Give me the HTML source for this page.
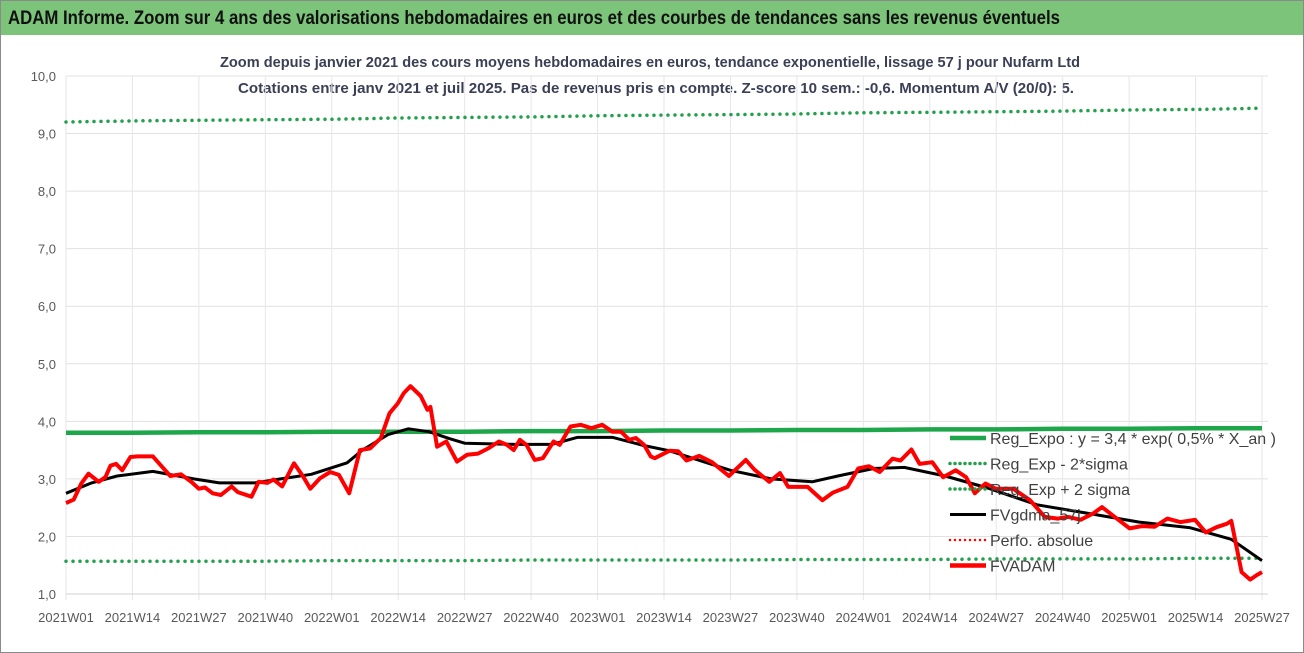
<!DOCTYPE html>
<html><head><meta charset="utf-8"><style>
html,body{margin:0;padding:0;background:#fff;}
svg{display:block;font-family:"Liberation Sans Narrow","Liberation Sans",sans-serif;}
</style></head><body>
<svg id="chart" width="1304" height="653" viewBox="0 0 1304 653">
<rect x="0" y="0" width="1304" height="653" fill="#fff"/>
<rect x="0.5" y="0.5" width="1303" height="652" fill="none" stroke="#8a8a8a"/>
<rect x="1" y="1" width="1302" height="34" fill="#7cc47a"/>
<text x="8" y="24" font-size="19" font-weight="bold" fill="#111" textLength="1052" lengthAdjust="spacingAndGlyphs">ADAM Informe. Zoom sur 4 ans des valorisations hebdomadaires en euros et des courbes de tendances sans les revenus éventuels</text>
<text x="650" y="67" font-size="15" font-weight="bold" fill="#3a3f55" text-anchor="middle" textLength="860" lengthAdjust="spacingAndGlyphs">Zoom depuis janvier 2021 des cours moyens hebdomadaires en euros, tendance exponentielle, lissage 57 j pour Nufarm Ltd</text>
<text x="656" y="93" font-size="15" font-weight="bold" fill="#3a3f55" text-anchor="middle" textLength="836" lengthAdjust="spacingAndGlyphs">Cotations entre janv 2021 et juil 2025. Pas de revenus pris en compte. Z-score 10 sem.: -0,6. Momentum A/V (20/0): 5.</text>
<g id="grid"></g><g id="axes"></g><g id="series"></g><g id="legend"></g>
</svg>
<script>
const xTickLabels=["2021W01","2021W14","2021W27","2021W40","2022W01","2022W14","2022W27","2022W40","2023W01","2023W14","2023W27","2023W40","2024W01","2024W14","2024W27","2024W40","2025W01","2025W14","2025W27"];
const yTicks=[1,2,3,4,5,6,7,8,9,10];
const redWeeks=[0,1.5,3,4.4,6.4,7.7,8.7,9.8,11,12.6,14,17,18.8,20.4,22.5,24.5,26,27.2,28.7,30.3,32.4,33.6,36.3,37.7,39.4,40.6,42.3,44.6,46.4,47.8,49.7,51.7,53.4,55.4,57.5,59.5,61.6,63.3,64.9,66.1,67.4,69.4,70.7,71.3,72.6,74.4,76.5,78.5,80.6,82.6,84.7,86.3,87.6,88.8,90.1,91.7,93.3,95.4,96.6,98.7,100.7,102.8,104.9,106.9,108.6,110.2,111.5,113.1,114.4,115.2,118.1,119.8,121.4,123.9,126.4,129.7,133,134.7,137.6,139.7,141.3,145.1,148,150,152.9,155,157.1,159.2,161.7,163.3,165.4,167,169.5,171.6,174.1,176.1,177.8,179.9,181.9,185.3,188.6,191.5,194,196.1,198.5,201,202.7,205.6,208.1,210.5,213,215.5,218,220.9,223,225.1,227.1,228,230,231.7,233,234];
const redValues=[2.58,2.64,2.92,3.09,2.95,3.03,3.23,3.26,3.15,3.38,3.39,3.39,3.21,3.05,3.08,2.95,2.83,2.85,2.75,2.72,2.87,2.77,2.69,2.95,2.93,2.99,2.87,3.27,3.04,2.83,3.01,3.12,3.07,2.75,3.5,3.53,3.71,4.14,4.31,4.49,4.61,4.44,4.2,4.25,3.56,3.65,3.3,3.42,3.44,3.53,3.65,3.59,3.5,3.68,3.59,3.33,3.36,3.65,3.59,3.91,3.94,3.88,3.94,3.82,3.82,3.68,3.71,3.59,3.39,3.36,3.49,3.48,3.32,3.4,3.29,3.05,3.33,3.16,2.95,3.1,2.86,2.86,2.63,2.76,2.86,3.18,3.22,3.12,3.35,3.32,3.51,3.26,3.29,3.03,3.15,3.03,2.75,2.92,2.83,2.83,2.63,2.34,2.31,2.34,2.29,2.4,2.51,2.31,2.14,2.18,2.17,2.31,2.25,2.29,2.07,2.16,2.22,2.27,1.38,1.25,1.33,1.38];
const blackWeeks=[0,5,10,17,25,30,37,42,48,55,58,63,67,71,75,78,88,95,100,107,113,118,130,138,146,151,158,164,172,180,190,200,210,220,228,234];
const blackValues=[2.75,2.93,3.05,3.13,3.0,2.93,2.93,3.0,3.08,3.28,3.5,3.77,3.87,3.82,3.7,3.62,3.6,3.6,3.72,3.72,3.58,3.49,3.15,3.0,2.95,3.05,3.18,3.2,3.05,2.85,2.55,2.4,2.25,2.15,1.95,1.58];
const trendWeeks=[0,13,26,39,52,65,78,91,104,117,130,143,156,169,182,195,208,221,234];
const trendValues=[3.80,3.80,3.81,3.81,3.82,3.82,3.82,3.83,3.83,3.84,3.84,3.85,3.85,3.86,3.86,3.87,3.87,3.88,3.88];
const lowerValues=[1.57,1.57,1.57,1.57,1.58,1.58,1.58,1.59,1.59,1.59,1.59,1.60,1.60,1.60,1.61,1.61,1.61,1.62,1.62];
const upperValues=[9.20,9.22,9.23,9.24,9.25,9.27,9.28,9.29,9.31,9.32,9.33,9.34,9.36,9.37,9.38,9.39,9.41,9.42,9.44];

const NS="http://www.w3.org/2000/svg";
const X0=66,X1=1262,Y0=594,Y1=76,NW=234;
const xs=w=>X0+(X1-X0)*w/NW;
const ys=v=>Y0-(Y0-Y1)*(v-1)/9;
function mk(tag,attrs,parent){const e=document.createElementNS(NS,tag);for(const k in attrs)e.setAttribute(k,attrs[k]);parent.appendChild(e);return e;}
const grid=document.getElementById('grid'),axes=document.getElementById('axes'),ser=document.getElementById('series'),leg=document.getElementById('legend');
yTicks.forEach(v=>{
 const l=mk('line',{x1:X0,x2:1268,y1:ys(v),y2:ys(v),stroke:'#e1e1e1','stroke-width':1},grid);
 
 
 const t=mk('text',{x:56,y:ys(v)+5,'font-size':13,fill:'#595959','text-anchor':'end'},axes);
 t.textContent=v.toFixed(1).replace('.',',');
 
 
});
xTickLabels.forEach((s,i)=>{
 const x=xs(i*13);
 const l=mk('line',{x1:x,x2:x,y1:Y1,y2:Y0+6,stroke:'#e6e6ee','stroke-width':1},grid);
 
 
 const t=mk('text',{x:x,y:622,'font-size':13,fill:'#595959','text-anchor':'middle'},axes);
 t.textContent=s;
 
 
});
const ax=mk('line',{x1:X0,x2:1268,y1:Y0,y2:Y0,stroke:'#d0d0d0'},axes);


function path(ws,vs){return ws.map((w,i)=>(i?'L':'M')+xs(w).toFixed(1)+','+ys(vs[i]).toFixed(1)).join(' ');}
const up=mk('path',{d:path(trendWeeks,upperValues),fill:'none',stroke:'#22a04a','stroke-width':3.5,'stroke-dasharray':'0 7','stroke-linecap':'round'},ser);


const lo=mk('path',{d:path(trendWeeks,lowerValues),fill:'none',stroke:'#22a04a','stroke-width':3.5,'stroke-dasharray':'0 7','stroke-linecap':'round'},ser);


const tr=mk('path',{d:path(trendWeeks,trendValues),fill:'none',stroke:'#1ea64a','stroke-width':4.5},ser);


const bl=mk('path',{d:path(blackWeeks,blackValues),fill:'none',stroke:'#000','stroke-width':3,'stroke-linejoin':'round'},ser);


const rd=mk('path',{d:path(redWeeks,redValues),fill:'none',stroke:'#f00','stroke-width':4,'stroke-linejoin':'round'},ser);


const items=[["Reg_Expo : y = 3,4 * exp( 0,5% *  X_an )","#1ea64a","solid",4.5],["Reg_Exp - 2*sigma","#22a04a","dot",3.5],["Reg_Exp + 2 sigma","#22a04a","dot",3.5],["FVgdma_57j","#000","solid",3],["Perfo. absolue","#f00","dot",2.5],["FVADAM","#f00","solid",4.5]];
items.forEach((it,i)=>{
 const y=438+i*25.5;
 const g=mk('g',{},leg);
 
 
 const a={x1:950,x2:986,y1:y,y2:y,stroke:it[1],'stroke-width':it[3]};
 if(it[2]==='dot'){a['stroke-dasharray']='0 5';a['stroke-linecap']='round';}
 mk('line',a,g);
 const t=mk('text',{x:990,y:y+6,'font-size':16,fill:'#404040'},g);
 t.textContent=it[0];
});
</script>
</body></html>
